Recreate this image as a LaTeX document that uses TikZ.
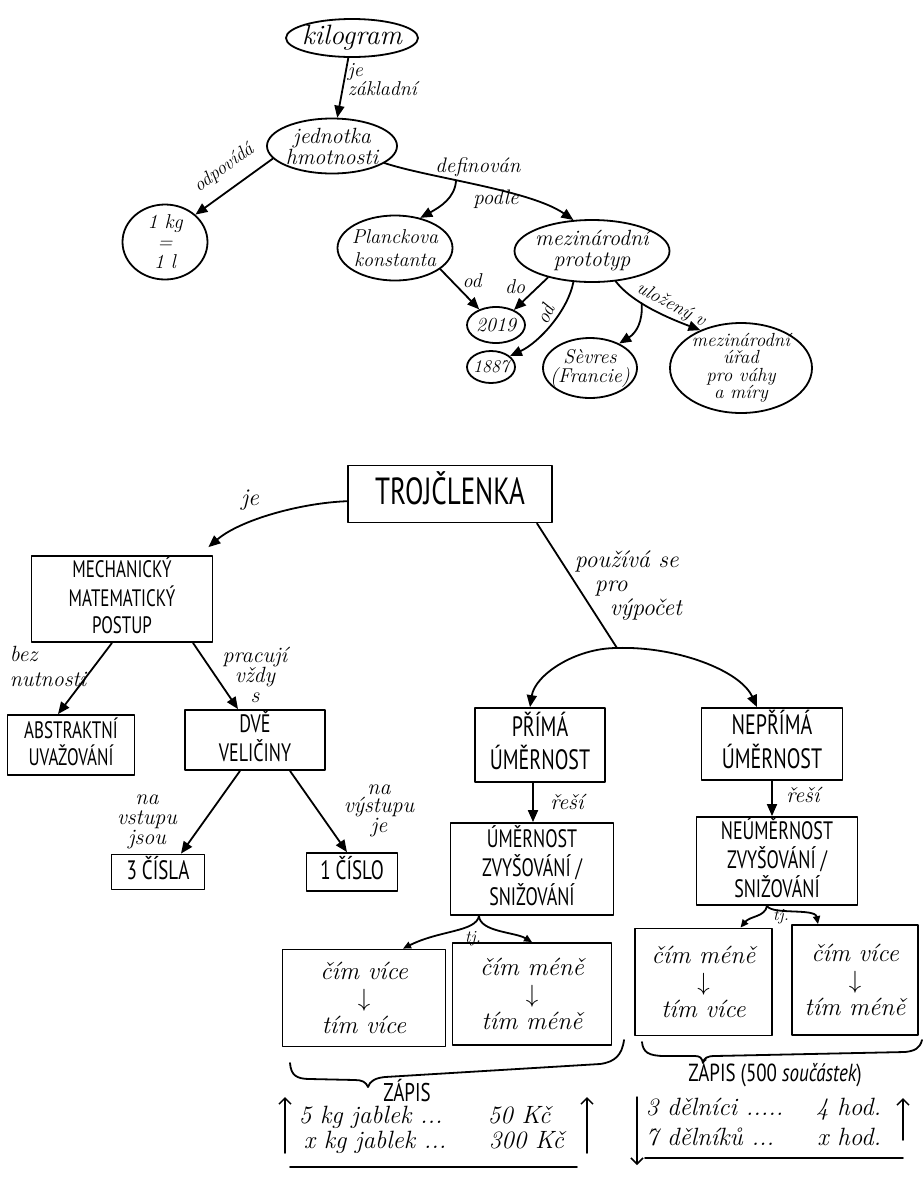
\documentclass[tikz,border=0pt]{standalone}
\usepackage{fontspec}
\newfontfamily\capsfont{PT Sans}
\usetikzlibrary{shapes.geometric,arrows.meta}
% handwriting-like italic and hand-printed capitals, size/baselineskip
\newcommand\handsz[2]{\itshape\fontsize{#1}{#2}\selectfont}
\newcommand\capsz[2]{\capsfont\fontsize{#1}{#2}\selectfont}
% tall hand-printed capitals: size, line distance, lines
\newcommand\capstack[3]{\scalebox{1}[1.4]{\capsz{#1}{#2}\begin{tabular}{@{}c@{}}#3\end{tabular}}}
\begin{document}
\begin{tikzpicture}[x=1pt,y=-1pt,
  line width=1.8pt, line cap=round, line join=round,
  conn/.style={-{Triangle[length=12pt,width=10pt]}},
  connsm/.style={-{Triangle[length=8pt,width=7pt]}},
  pen/.style={-{Straight Barb[length=6pt,width=12pt]}, line width=1.5pt},
  oval/.style={draw, ellipse, inner sep=0pt},
  frame/.style={draw, rectangle, inner sep=0pt, align=center},
  txt/.style={inner sep=0pt, align=center},
]
\fill[white] (0,0) rectangle (923,1179);
\useasboundingbox (0,0) rectangle (923,1179);

% ---------------- kilogram concept map ----------------
\node[oval, minimum width=132, minimum height=38,
  label={[txt, font=\handsz{28}{28}]center:kilogram}] (kilo) at (352,38) {};
\node[oval, minimum width=130, minimum height=55,
  label={[txt, font=\handsz{22}{21}]center:{jednotka\\hmotnosti}}] (jedn) at (332,146) {};
\node[oval, minimum width=85, minimum height=75,
  label={[txt, font=\handsz{20}{20}]center:{1 kg\\=\\1 l}}] (kg) at (165,242) {};
\node[oval, minimum width=115, minimum height=65,
  label={[txt, font=\handsz{20}{23}]center:{Planckova\\konstanta}}] (planck) at (395,248) {};
\node[oval, minimum width=155, minimum height=62,
  label={[txt, font=\handsz{22}{21}]center:{mezinárodní\\prototyp}}] (proto) at (592,251) {};
\node[oval, minimum width=58, minimum height=36,
  label={[txt, font=\handsz{20}{20}]center:2019}] (y2019) at (496,325) {};
\node[oval, minimum width=48, minimum height=32,
  label={[txt, font=\handsz{18}{18}]center:1887}] (y1887) at (491,367) {};
\node[oval, minimum width=94, minimum height=60,
  label={[txt, font=\handsz{20}{19}]center:{Sèvres\\(Francie)}}] (sevres) at (590,368) {};
\node[oval, minimum width=142, minimum height=90,
  label={[txt, font=\handsz{19}{17.5}]center:{mezinárodní\\úřad\\pro váhy\\a míry}}] (bipm) at (741,368) {};

\draw[conn] (kilo) -- (jedn);
\node[txt, align=left, anchor=north west, font=\handsz{20}{17}] (lzakl) at (347,63) {je\\základní};

\draw[conn] (jedn.192) -- (kg.42);
\node[txt, rotate=36, font=\handsz{19}{19}] (lodp) at (224,168) {odpovídá};

\draw[conn] (jedn.-18) .. controls (430,178) and (530,190) .. coordinate[pos=0.39] (d1) (proto.121);
\draw[conn] (d1) .. controls (455,198) and (440,207) .. (planck.50);
\node[txt, font=\handsz{21}{21}] (ldef) at (478,167) {definován};
\node[txt, font=\handsz{21}{21}] (lpod) at (496,199) {podle};

\draw[conn] (planck.-25) -- (y2019.137);
\node[txt, font=\handsz{20}{20}] (lod1) at (472,281) {od};
\draw[conn] (proto.211) -- (y2019.40);
\node[txt, font=\handsz{20}{20}] (ldo) at (515,287) {do};
\draw[conn] (proto.239) .. controls (568,310) and (540,342) .. (y1887.30);
\node[txt, rotate=65, font=\handsz{20}{20}] (lod2) at (545,314) {od};

\draw[conn] (proto.-52) .. controls (630,300) and (660,315) .. coordinate[pos=0.42] (d2) (bipm.137);
\draw[conn] (d2) .. controls (643,322) and (636,333) .. (sevres.40);
\node[txt, rotate=-28, font=\handsz{19}{19}] (lulo) at (671,305) {uložený v};

% ---------------- TROJČLENKA concept map ----------------
\node[frame, minimum width=204, minimum height=57] (troj) at (450,494) {\capstack{27}{27}{TROJČLENKA}};
\node[frame, minimum width=181, minimum height=86] (mech) at (122,599) {\capstack{17}{19.3}{MECHANICKÝ\\MATEMATICKÝ\\POSTUP}};
\node[frame, minimum width=127, minimum height=60] (abstr) at (71,745) {\capstack{17}{16}{ABSTRAKTNÍ\\UVAŽOVÁNÍ}};
\node[frame, minimum width=140, minimum height=60] (dve) at (255,740) {\capstack{18}{18}{DVĚ\\VELIČINY}};
\node[frame, minimum width=93, minimum height=35] (c3) at (158,872) {\capstack{19}{19}{3 ČÍSLA}};
\node[frame, minimum width=91, minimum height=38] (c1) at (352,872) {\capstack{19}{19}{1 ČÍSLO}};
\node[frame, minimum width=130, minimum height=74] (prima) at (540,745) {\capstack{20}{20}{PŘÍMÁ\\ÚMĚRNOST}};
\node[frame, minimum width=141, minimum height=72] (neprima) at (772,744) {\capstack{20}{22}{NEPŘÍMÁ\\ÚMĚRNOST}};
\node[frame, minimum width=163, minimum height=92] (umer) at (532,869) {\capstack{18}{17}{ÚMĚRNOST\\ZVYŠOVÁNÍ /\\SNIŽOVÁNÍ}};
\node[frame, minimum width=161, minimum height=88] (neumer) at (777,861) {\capstack{18}{16.5}{NEÚMĚRNOST\\ZVYŠOVÁNÍ /\\SNIŽOVÁNÍ}};

\node[frame, minimum width=163, minimum height=97, font=\handsz{25}{27}] (b1) at (364,998) {čím více\\$\downarrow$\\tím více};
\node[frame, minimum width=159, minimum height=102, font=\handsz{25}{27}] (b2) at (532,994) {čím méně\\$\downarrow$\\tím méně};
\node[frame, minimum width=137, minimum height=107, font=\handsz{25}{27}] (b3) at (703.5,982) {čím méně\\$\downarrow$\\tím více};
\node[frame, minimum width=126, minimum height=110, font=\handsz{25}{27}] (b4) at (855,980) {čím více\\$\downarrow$\\tím méně};

\draw[conn] (troj.184) .. controls (300,503) and (240,520) .. ([xshift=-5pt,yshift=8pt]mech.north east);
\node[txt, font=\handsz{24}{24}] (lje) at (250,500) {je};

\draw[conn] ([xshift=-10pt]mech.south) -- ([xshift=-13pt]abstr.north);
\node[txt, align=left, anchor=west, font=\handsz{22}{25}] (lbez) at (9,666) {bez\\nutnosti};
\draw[conn] ([xshift=71pt]mech.south) -- ([xshift=-17pt]dve.north);
\node[txt, font=\handsz{22}{20}] (lprac) at (255,675) {pracují\\vždy\\s};

\draw[conn] ([xshift=-15pt]dve.south) -- ([xshift=23pt]c3.north);
\node[txt, font=\handsz{22}{20}] (lvst) at (147,822) {na\\vstupu\\jsou};
\draw[conn] ([xshift=35pt]dve.south) -- ([xshift=-5pt]c1.north);
\node[txt, font=\handsz{22}{18}] (lvys) at (379,811) {na\\výstupu\\je};

\coordinate (jn) at (617,648);
\draw ([xshift=87pt]troj.south) -- (jn);
\draw[conn] (jn) .. controls (575,648) and (535,675) .. ([xshift=-10pt]prima.north);
\draw[conn] (jn) .. controls (675,646) and (740,670) .. ([xshift=-15pt]neprima.north);
\node[txt, align=left, anchor=north west, font=\handsz{24}{24}] (lpouz) at (574,550)
  {používá se\\\hspace*{20pt}pro\\\hspace*{35pt}výpočet};

\draw[conn] ([xshift=-7pt]prima.south) -- ([xshift=1pt]umer.north);
\node[txt, font=\handsz{22}{22}] (lres1) at (567,802) {řeší};
\draw[conn] (neprima.south) -- ([xshift=-5pt]neumer.north);
\node[txt, font=\handsz{22}{22}] (lres2) at (803,795) {řeší};

\coordinate (s1) at ([xshift=-53pt]umer.south);
\draw[connsm] (s1) .. controls (476,932) and (440,930) .. ([xshift=39pt]b1.north);
\draw[connsm] (s1) .. controls (480,932) and (515,932) .. (b2.north);
\node[txt, font=\handsz{17}{17}] (ltj1) at (473,939) {tj.};

\coordinate (s2) at ([xshift=-10pt]neumer.south);
\draw[connsm] (s2) .. controls (765,917) and (750,916) .. ([xshift=37pt]b3.north);
\draw[connsm] (s2) .. controls (772,915) and (815,908) .. ([xshift=-37pt]b4.north);
\node[txt, font=\handsz{17}{17}] (ltj2) at (781,917) {tj.};

% braces under the four boxes
\draw (290,1063) .. controls (291,1075) and (296,1079) .. (310,1079) -- (355,1080)
  .. controls (362,1080) and (366,1082) .. (368,1087)
  .. controls (370,1081) and (375,1078) .. (385,1077) -- (600,1064)
  .. controls (615,1062) and (622,1055) .. (624,1040);
\draw (642,1042) .. controls (643,1052) and (648,1056) .. (665,1056) -- (695,1056)
  .. controls (700,1056) and (702,1058) .. (703,1063)
  .. controls (704,1058) and (707,1056) .. (715,1056) -- (905,1052)
  .. controls (915,1051) and (920,1048) .. (922,1040);

\node[txt] (zap1) at (407,1090) {\scalebox{1}[1.35]{\capsz{19}{19}ZÁPIS}};
\node[txt] (zap2) at (775,1073) {\scalebox{1}[1.3]{\capsz{19}{19}ZÁPIS (500 {\handsz{19}{19}součástek})}};

% worked examples
\node[txt, anchor=base west, font=\handsz{25}{25}] (r1a) at (298,1123) {5 kg jablek ...};
\node[txt, anchor=base west, font=\handsz{25}{25}] (r1b) at (487,1123) {50 Kč};
\node[txt, anchor=base west, font=\handsz{25}{25}] (r2a) at (303,1148) {x kg jablek ...};
\node[txt, anchor=base west, font=\handsz{25}{25}] (r2b) at (488,1148) {300 Kč};
\node[txt, anchor=base west, font=\handsz{25}{25}] (r3a) at (645,1115) {3 dělníci .....};
\node[txt, anchor=base east, font=\handsz{25}{25}] (r3b) at (882,1115) {4 hod.};
\node[txt, anchor=base west, font=\handsz{25}{25}] (r4a) at (645,1145) {7 dělníků ...};
\node[txt, anchor=base east, font=\handsz{25}{25}] (r4b) at (882,1145) {x hod.};

\coordinate (pa1) at (285,1153); \coordinate (pb1) at (285,1097);
\coordinate (pa2) at (587,1153); \coordinate (pb2) at (587,1097);
\coordinate (pa3) at (637,1097); \coordinate (pb3) at (637,1165);
\coordinate (pa4) at (903,1140); \coordinate (pb4) at (903,1098);
\draw[pen] (pa1) -- (pb1);
\draw[pen] (pa2) -- (pb2);
\draw[pen] (pa3) -- (pb3);
\draw[pen] (pa4) -- (pb4);

\coordinate (u1a) at (290,1167); \coordinate (u1b) at (577,1167);
\coordinate (u2a) at (645,1158); \coordinate (u2b) at (903,1158);
\draw (u1a) -- (u1b);
\draw (u2a) -- (u2b);
\end{tikzpicture}
\end{document}
